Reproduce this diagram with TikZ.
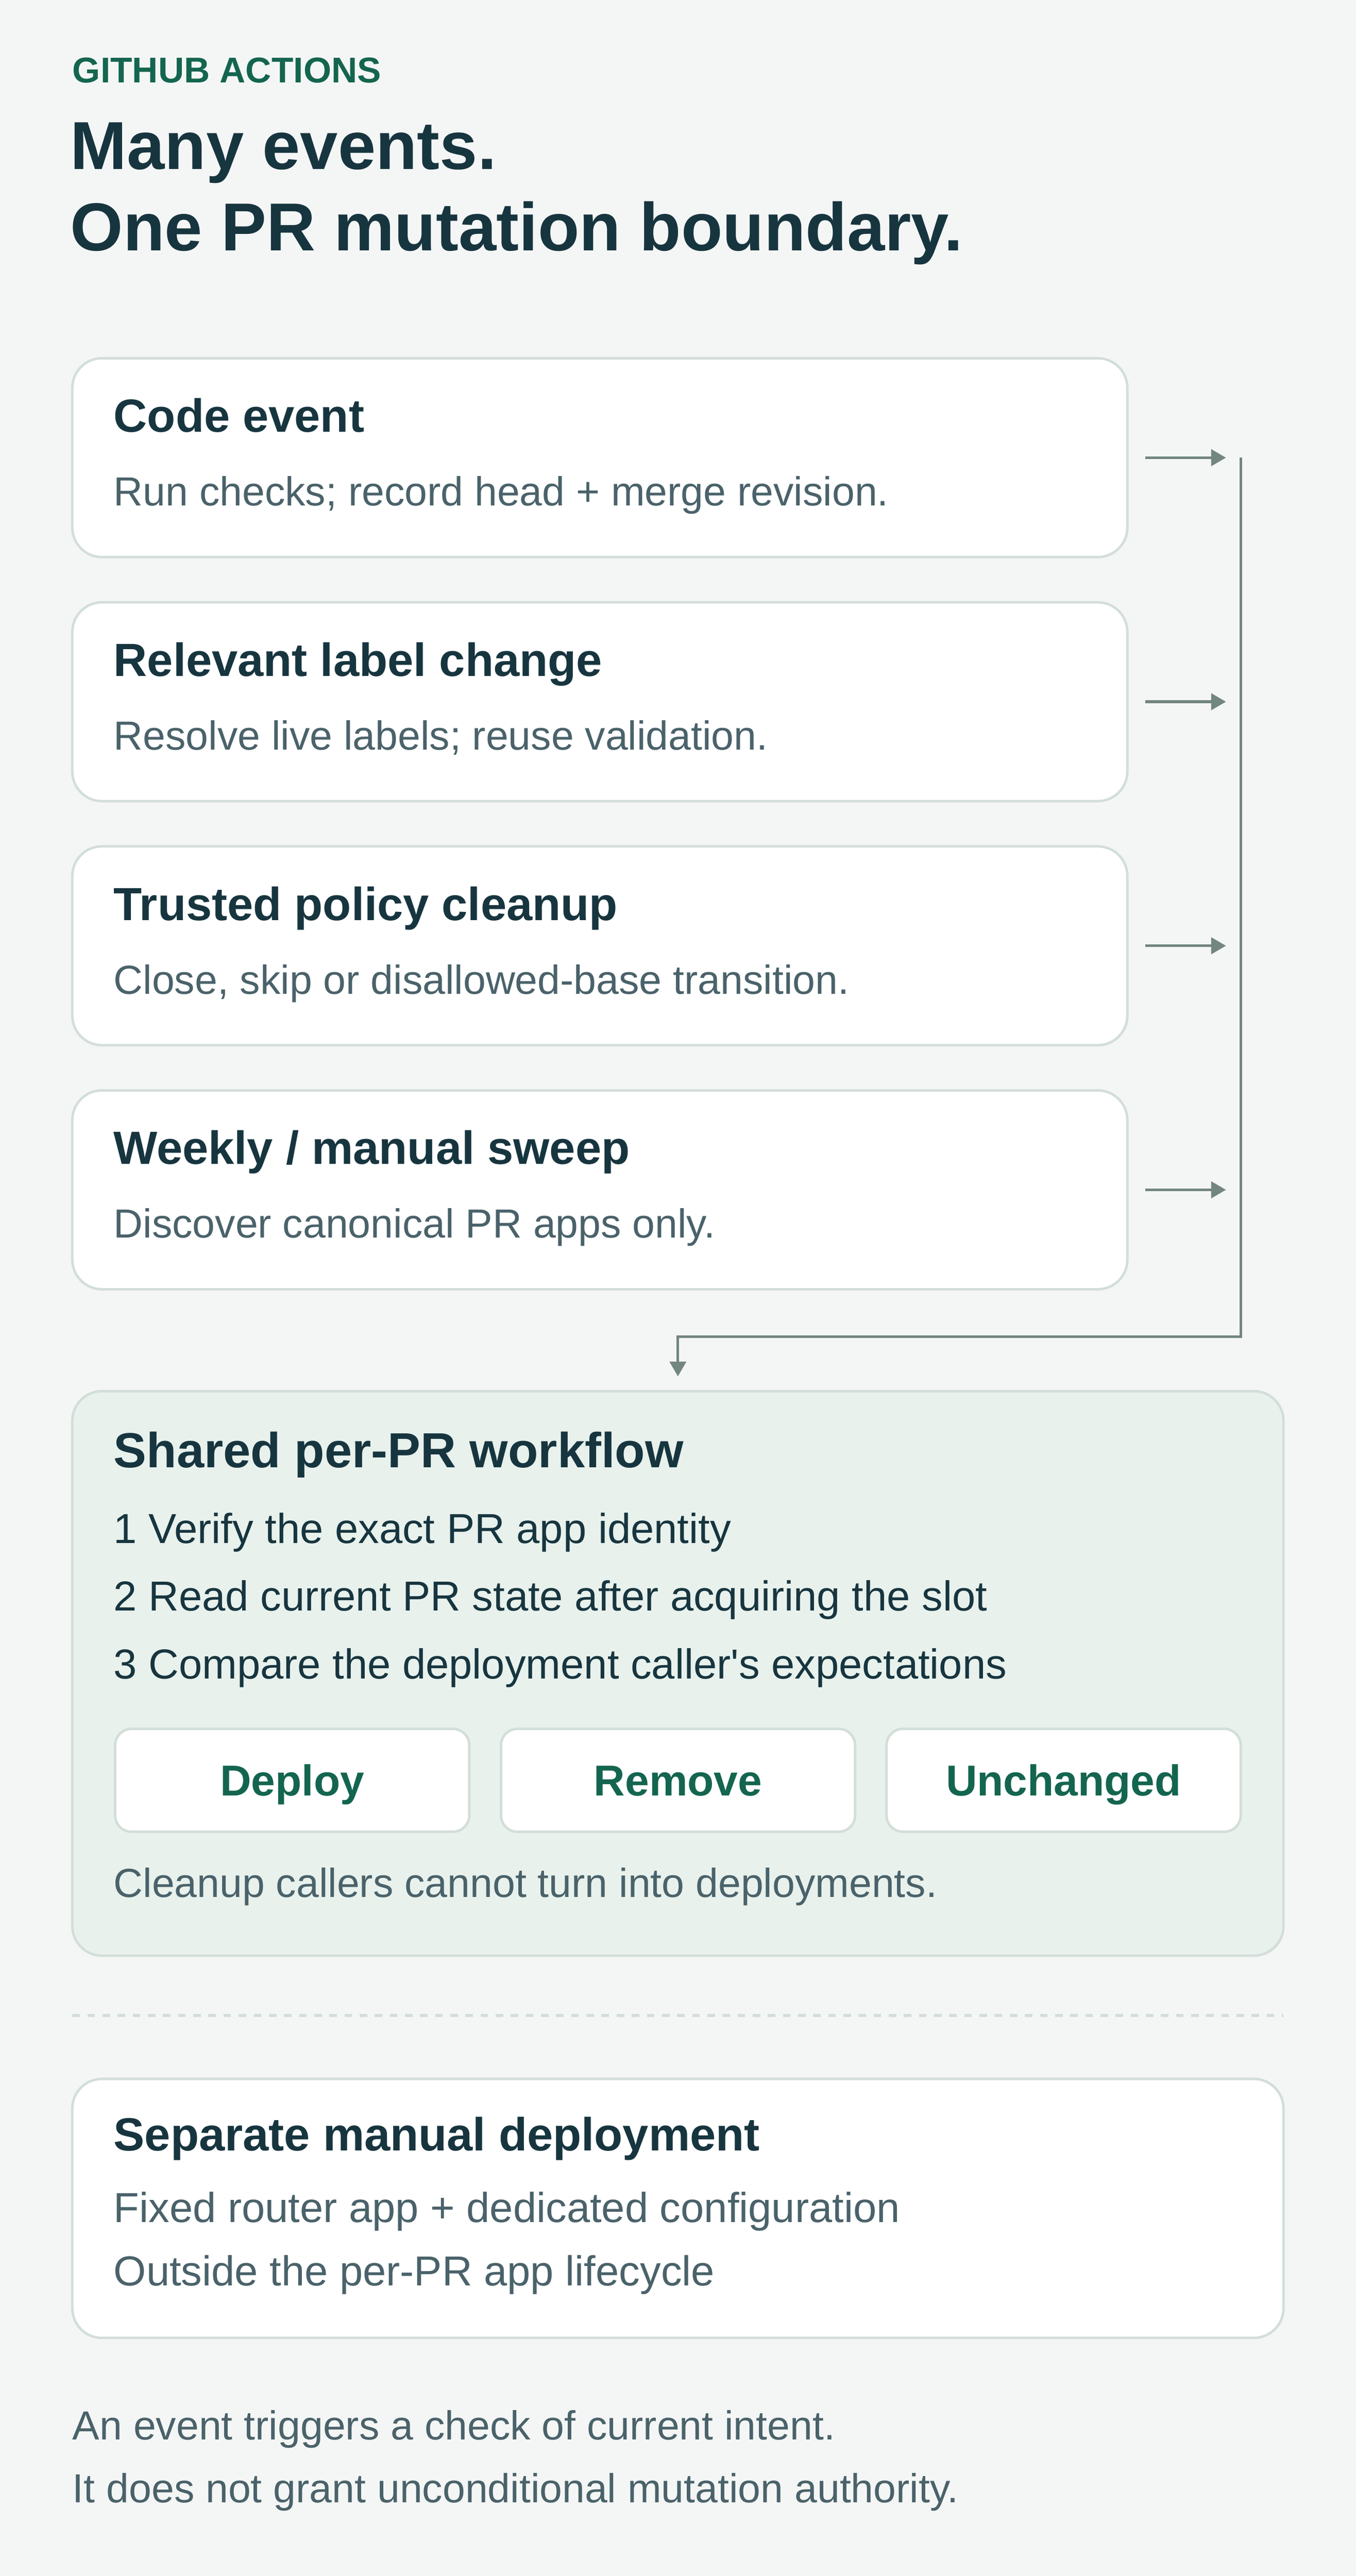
\documentclass[tikz,border=0pt]{standalone}
\usepackage{fontspec}
\setmainfont{Liberation Sans}
\usetikzlibrary{arrows.meta,positioning}

\definecolor{paper}{HTML}{F4F6F5}
\definecolor{ink}{HTML}{17353F}
\definecolor{muted}{HTML}{4A626A}
\definecolor{leaf}{HTML}{14654F}
\definecolor{rim}{HTML}{D3DED9}
\definecolor{wire}{HTML}{738680}
\definecolor{wash}{HTML}{E8F1EC}

\tikzset{
	card/.style={draw=rim, line width=1.5pt, fill=white, rounded corners=18pt,
		inner sep=0pt, outer sep=0pt, minimum width=642pt, minimum height=121pt},
	pill/.style={draw=rim, line width=1.5pt, fill=white, rounded corners=10pt,
		inner sep=0pt, outer sep=0pt, minimum width=215.5pt, minimum height=62.6pt,
		text=leaf, text height=18.8pt, text depth=0pt,
		font=\bfseries\fontsize{26.3}{31}\selectfont},
	head/.style={anchor=base west, inner sep=0pt, text=ink,
		font=\bfseries\fontsize{28.3}{34}\selectfont},
	note/.style={anchor=base west, inner sep=0pt, text=muted,
		font=\fontsize{24.7}{30}\selectfont},
	item/.style={anchor=base west, inner sep=0pt, text=ink,
		font=\fontsize{25.5}{31}\selectfont},
	flow/.style={draw=wire, line width=1.6pt, -{Triangle[length=9pt,width=10pt]}},
}

\begin{document}
\begin{tikzpicture}[x=1pt, y=-1pt]
	\useasboundingbox[fill=paper] (0,0) rectangle (825,1567.5);

	\node[anchor=base west, inner sep=0pt, text=leaf, font=\bfseries\fontsize{21.8}{26}\selectfont] (kicker) at (44,50.4) {GITHUB ACTIONS};
	\node[anchor=base west, inner sep=0pt, text=ink, font=\bfseries\fontsize{41.3}{49}\selectfont] (title1) at (42.6,103.1) {Many events.};
	\node[anchor=base west, inner sep=0pt, text=ink, font=\bfseries\fontsize{41.3}{49}\selectfont] (title2) at (42.6,152.4) {One PR mutation boundary.};

	\node[card] (code) at (365,278.5) {};
	\node[head] (codehead) at (69,263) {Code event};
	\node[note] (codenote) at (69,307.8) {Run checks; record head + merge revision.};

	\node[card] (label) at (365,427) {};
	\node[head] (labelhead) at (69,411.5) {Relevant label change};
	\node[note] (labelnote) at (69,456.3) {Resolve live labels; reuse validation.};

	\node[card] (policy) at (365,575.5) {};
	\node[head] (policyhead) at (69,560) {Trusted policy cleanup};
	\node[note] (policynote) at (69,604.8) {Close, skip or disallowed-base transition.};

	\node[card] (sweep) at (365,724) {};
	\node[head] (sweephead) at (69,708.5) {Weekly / manual sweep};
	\node[note] (sweepnote) at (69,753.3) {Discover canonical PR apps only.};

	\draw[flow] ([xshift=11pt]code.east) -- ([xshift=60pt]code.east);
	\draw[flow] ([xshift=11pt]label.east) -- ([xshift=60pt]label.east);
	\draw[flow] ([xshift=11pt]policy.east) -- ([xshift=60pt]policy.east);
	\draw[flow] ([xshift=11pt]sweep.east) -- ([xshift=60pt]sweep.east);

	\node[card, fill=wash, minimum width=737pt, minimum height=343.5pt] (shared) at (412.5,1018.25) {};
	\node[head, font=\bfseries\fontsize{30}{36}\selectfont] (sharedhead) at (69,893) {Shared per-PR workflow};
	\node[item] (step1) at (69,939) {1 Verify the exact PR app identity};
	\node[item] (step2) at (69,980.2) {2 Read current PR state after acquiring the slot};
	\node[item] (step3) at (69,1021.4) {3 Compare the deployment caller\textquotesingle s expectations};
	\node[pill] (deploy) at (177.8,1083.3) {Deploy};
	\node[pill] (remove) at (412.6,1083.3) {Remove};
	\node[pill] (keep) at (647.2,1083.3) {Unchanged};
	\node[note] (sharednote) at (69,1154.4) {Cleanup callers cannot turn into deployments.};

	\coordinate (bustop) at ([xshift=69pt]code.east);
	\coordinate (busbot) at (755,813.5);
	\draw[flow] (bustop) -- (busbot) -| ([yshift=9pt]shared.north);

	\draw[rim, line width=1.8pt, dash pattern=on 4.6pt off 4.6pt] (44,1226.5) -- (781,1226.5);

	\node[card, minimum width=737pt, minimum height=157.6pt] (manual) at (412.5,1343.8) {};
	\node[head] (manualhead) at (69,1308.7) {Separate manual deployment};
	\node[item, text=muted] (manual1) at (69,1352.2) {Fixed router app + dedicated configuration};
	\node[item, text=muted] (manual2) at (69,1390.9) {Outside the per-PR app lifecycle};

	\node[note] (foot1) at (44,1484.5) {An event triggers a check of current intent.};
	\node[note] (foot2) at (44,1522.7) {It does not grant unconditional mutation authority.};
\end{tikzpicture}
\end{document}
